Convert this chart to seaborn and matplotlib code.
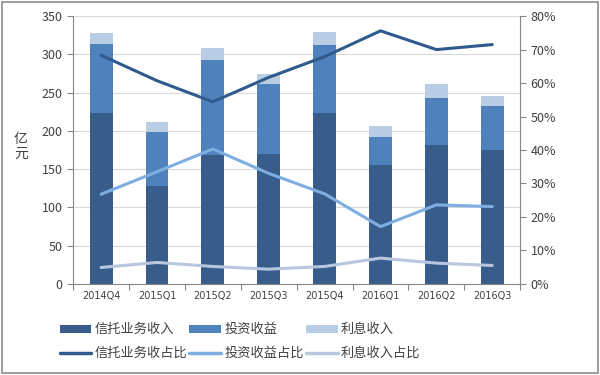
import numpy as np
import pandas as pd
import matplotlib
matplotlib.use("Agg")
import matplotlib.pyplot as plt
import seaborn as sns
from matplotlib.patches import Rectangle, Patch
from matplotlib.lines import Line2D

categories = ["2014Q4", "2015Q1", "2015Q2", "2015Q3", "2015Q4", "2016Q1", "2016Q2", "2016Q3"]
trust_income = [224, 128, 168, 170, 223, 155, 181, 175]
invest_income = [90, 70, 124, 91, 89, 37, 62, 57]
interest_income = [14, 13, 16, 13, 17, 15, 18, 13]
trust_ratio = [68.3, 60.7, 54.4, 61.7, 67.9, 75.6, 70.0, 71.5]
invest_ratio = [26.8, 33.5, 40.3, 33.0, 26.9, 17.1, 23.6, 23.1]
interest_ratio = [4.9, 6.4, 5.2, 4.4, 5.2, 7.7, 6.2, 5.5]

bar_names = ["信托业务收入", "投资收益", "利息收入"]
line_names = ["信托业务收占比", "投资收益占比", "利息收入占比"]
bar_colors = ["#385D8A", "#4F81BD", "#B9CDE5"]
line_colors = ["#2F5A8E", "#7FAEE3", "#B8C6DE"]

sns.set_theme(style="white")
plt.rcParams['font.family'] = ['Noto Sans CJK SC', 'DejaVu Sans']

fig = plt.figure(figsize=(6, 3.75), dpi=100)
ax = fig.add_axes([0.122, 0.243, 0.745, 0.714])

cum1 = np.array(trust_income)
cum2 = cum1 + np.array(invest_income)
cum3 = cum2 + np.array(interest_income)
df = pd.DataFrame({"cat": categories, "c1": cum1, "c2": cum2, "c3": cum3})

for col, c in zip(["c3", "c2", "c1"], bar_colors[::-1]):
    sns.barplot(data=df, x="cat", y=col, color=c, width=0.41, ax=ax,
                saturation=1, edgecolor="none", linewidth=0)

ax.set_ylim(0, 350)
ax.set_xlim(-0.5, 7.5)
ax.set_yticks(range(0, 351, 50))
ax.set_xlabel("")
ax.set_ylabel("")
ax.yaxis.grid(True, color="#D9D9D9", linewidth=0.8)
ax.set_axisbelow(True)
for s in ["top", "right"]:
    ax.spines[s].set_visible(False)
for s in ["left", "bottom"]:
    ax.spines[s].set_color("#868686")
    ax.spines[s].set_linewidth(0.8)
ax.tick_params(axis="y", labelsize=9, colors="#404040", length=4, color="#868686", width=0.8, left=True, direction="out")
ax.set_xticks(np.arange(8))
ax.set_xticklabels(categories, fontsize=7, color="#404040", family=["DejaVu Sans"])
ax.tick_params(axis="x", length=0, pad=5)
ax.set_xticks(np.arange(-0.5, 8, 1), minor=True)
ax.tick_params(axis="x", which="minor", length=4, color="#868686", width=0.8, bottom=True, direction="out")

ax2 = ax.twinx()
ldf = pd.DataFrame({"cat": np.arange(8), "r1": trust_ratio, "r2": invest_ratio, "r3": interest_ratio})
for col, c in zip(["r1", "r2", "r3"], line_colors):
    sns.lineplot(data=ldf, x="cat", y=col, color=c, linewidth=2.2, ax=ax2)
ax2.set_ylim(0, 80)
ax2.set_xlim(-0.5, 7.5)
ax2.set_yticks(range(0, 81, 10))
ax2.set_yticklabels([f"{v}%" for v in range(0, 81, 10)])
ax2.set_ylabel("")
ax2.set_xlabel("")
for s in ["top", "left", "bottom"]:
    ax2.spines[s].set_visible(False)
ax2.spines["right"].set_color("#868686")
ax2.spines["right"].set_linewidth(0.8)
ax2.tick_params(axis="y", labelsize=9, colors="#404040", length=4, color="#868686", width=0.8, right=True, direction="out")
ax2.grid(False)

fig.text(0.035, 0.61, "亿\n元", fontsize=10, color="#404040", ha="center", va="center", linespacing=1.1)

bar_handles = [Patch(facecolor=c, edgecolor="none") for c in bar_colors]
line_handles = [Line2D([0], [0], color=c, linewidth=2.5) for c in line_colors]
handles, labels = [], []
for i in range(3):
    handles += [bar_handles[i], line_handles[i]]
    labels += [bar_names[i], line_names[i]]
fig.legend(handles, labels, loc="center", bbox_to_anchor=(0.40, 0.089), ncol=3,
           frameon=False, fontsize=9.5, handlelength=2.4, handleheight=0.55,
           columnspacing=0.15, handletextpad=0.25, labelspacing=0.8,
           labelcolor="#404040")

fig.patches.append(Rectangle((0.004, 0.006), 0.992, 0.988, transform=fig.transFigure,
                             fill=False, edgecolor="#8C8C8C", linewidth=1.2))

fig.savefig("out.png", dpi=100)
